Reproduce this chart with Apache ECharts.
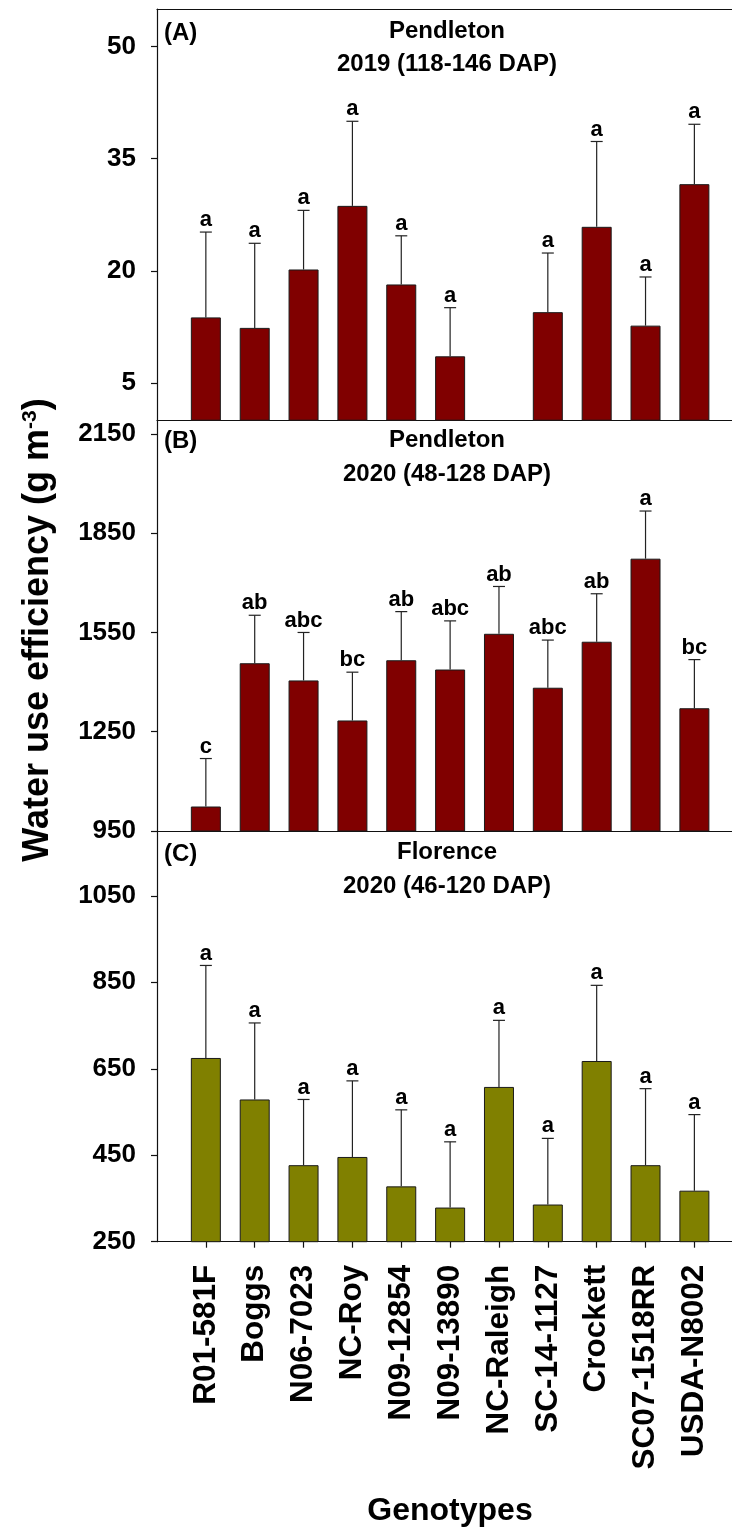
<!DOCTYPE html>
<html>
<head>
<meta charset="utf-8">
<script src="https://cdn.jsdelivr.net/npm/echarts@6/dist/echarts.min.js"></script>
<style>
  body { margin: 0; background: #fff; }
  #main { width: 732px; height: 1532px; }
</style>
</head>
<body>
<div id="main"></div>
<script>
// genotypes on the x axis
var genotypes = ["R01-581F", "Boggs", "N06-7023", "NC-Roy", "N09-12854", "N09-13890",
  "NC-Raleigh", "SC-14-1127", "Crockett", "SC07-1518RR", "USDA-N8002"];

// (A) Pendleton 2019
var wueA = [13.8, 12.4, 20.2, 28.7, 18.2, 8.6, null, 14.5, 25.9, 12.7, 31.6];
var seA = [11.4, 11.3, 7.9, 11.3, 6.5, 6.5, null, 7.9, 11.4, 6.5, 8.0];
var letA = ["a", "a", "a", "a", "a", "a", "", "a", "a", "a", "a"];
var ticksA = [5, 20, 35, 50];

// (B) Pendleton 2020
var wueB = [1024, 1457, 1405, 1284, 1466, 1438, 1546, 1383, 1522, 1773, 1321];
var seB = [145, 145, 145, 146, 147, 147, 143, 144, 145, 144, 147];
var letB = ["c", "ab", "abc", "bc", "ab", "abc", "ab", "abc", "ab", "a", "bc"];
var ticksB = [950, 1250, 1550, 1850, 2150];

// (C) Florence 2020
var wueC = [675, 579, 427, 446, 378, 329, 608, 336, 668, 427, 368];
var seC = [214, 177, 152, 176, 177, 152, 154, 153, 175, 177, 176];
var letC = ["a", "a", "a", "a", "a", "a", "a", "a", "a", "a", "a"];
var ticksC = [250, 450, 650, 850, 1050];

var FONT = "'Liberation Sans', Arial, sans-serif";
var slots = genotypes.map(function (g, i) { return i + 1; });
// the plot runs past the right edge of the page (cut off like the original)
var X_MAX = 11.77;

function barSeries(idx, means, color) {
  var data = [];
  means.forEach(function (v, i) {
    if (v != null) data.push([i + 1, v]);
  });
  return {
    type: "bar",
    xAxisIndex: idx,
    yAxisIndex: idx,
    barWidth: 30,
    animation: false,
    itemStyle: { color: color, borderColor: "#1a1a1a", borderWidth: 1 },
    data: data,
  };
}

function errSeries(idx, means, ses, letters) {
  var data = [];
  means.forEach(function (v, i) {
    if (v != null) data.push([i + 1, v, ses[i], i]);
  });
  return {
    type: "custom",
    xAxisIndex: idx,
    yAxisIndex: idx,
    animation: false,
    z: 5,
    renderItem: function (params, api) {
      var p0 = api.coord([api.value(0), api.value(1)]);
      var p1 = api.coord([api.value(0), api.value(1) + api.value(2)]);
      var lineStyle = { stroke: "#222", lineWidth: 1.2 };
      return {
        type: "group",
        children: [
          { type: "line", shape: { x1: p0[0], y1: p0[1], x2: p1[0], y2: p1[1] }, style: lineStyle },
          { type: "line", shape: { x1: p1[0] - 6, y1: p1[1], x2: p1[0] + 6, y2: p1[1] }, style: lineStyle },
          {
            type: "text",
            x: p1[0],
            y: p1[1] - 1,
            style: {
              text: letters[api.value(3)],
              textAlign: "center",
              textVerticalAlign: "bottom",
              font: "bold 22px " + FONT,
              fill: "#000",
            },
          },
        ],
      };
    },
    data: data,
  };
}

function yAxisFor(idx, min, max, ticks) {
  return {
    type: "value",
    gridIndex: idx,
    min: min,
    max: max,
    axisLine: { show: true, lineStyle: { color: "#111", width: 1.2 } },
    axisTick: { show: true, length: 6, customValues: ticks, lineStyle: { color: "#111", width: 1.2 } },
    axisLabel: {
      customValues: ticks,
      margin: 21,
      color: "#000",
      fontWeight: "bold",
      fontSize: 26,
      fontFamily: FONT,
      formatter: function (v) {
        return String(v);
      },
    },
    splitLine: { show: false },
  };
}

function xAxisFor(idx, showLabels, position) {
  return {
    type: "value",
    gridIndex: idx,
    position: position || "bottom",
    min: 0,
    max: X_MAX,
    axisLine: { show: true, onZero: false, lineStyle: { color: "#111", width: 1.2 } },
    axisTick: {
      show: showLabels,
      length: 6,
      customValues: slots,
      lineStyle: { color: "#111", width: 1.2 },
    },
    axisLabel: {
      show: showLabels,
      customValues: slots,
      rotate: 90,
      margin: 23,
      color: "#000",
      fontWeight: "bold",
      fontSize: 31.5,
      fontFamily: FONT,
      formatter: function (v) {
        return genotypes[v - 1];
      },
    },
    splitLine: { show: false },
  };
}

function txt(x, y, text, size, align) {
  return {
    type: "text",
    x: x,
    y: y,
    style: {
      text: text,
      textAlign: align || "center",
      textVerticalAlign: "middle",
      font: "bold " + size + "px " + FONT,
      fill: "#000",
    },
  };
}

var chartDom = document.getElementById("main");
var myChart = echarts.init(chartDom, null, { renderer: "canvas" });

var option = {
  backgroundColor: "#fff",
  animation: false,
  grid: [
    { left: 157, right: 0, top: 9, height: 411.7 },
    { left: 157, right: 0, top: 420.7, height: 410.3 },
    { left: 157, right: 0, top: 831, height: 410.7 },
  ],
  xAxis: [
    xAxisFor(0, false),
    xAxisFor(1, false),
    xAxisFor(2, true),
    xAxisFor(0, false, "top"),
  ],
  yAxis: [
    yAxisFor(0, 0, 55, ticksA),
    yAxisFor(1, 950, 2190, ticksB),
    yAxisFor(2, 250, 1200, ticksC),
  ],
  series: [
    barSeries(0, wueA, "#800000"),
    errSeries(0, wueA, seA, letA),
    barSeries(1, wueB, "#800000"),
    errSeries(1, wueB, seB, letB),
    barSeries(2, wueC, "#808000"),
    errSeries(2, wueC, seC, letC),
  ],
  graphic: [
    txt(164, 33, "(A)", 24, "left"),
    txt(447, 31, "Pendleton", 24),
    txt(447, 64, "2019 (118-146 DAP)", 24),
    txt(164, 441, "(B)", 24, "left"),
    txt(447, 440, "Pendleton", 24),
    txt(447, 474, "2020 (48-128 DAP)", 24),
    txt(164, 854, "(C)", 24, "left"),
    txt(447, 852, "Florence", 24),
    txt(447, 886, "2020 (46-120 DAP)", 24),
    txt(450, 1511, "Genotypes", 32),
    {
      type: "text",
      x: 38,
      y: 630,
      rotation: Math.PI / 2,
      style: {
        text: "Water use efficiency (g m{sup|-3})",
        textAlign: "center",
        textVerticalAlign: "middle",
        font: "bold 36px " + FONT,
        fill: "#000",
        rich: {
          sup: { fontSize: 21, fontWeight: "bold", fontFamily: FONT, verticalAlign: "top", fill: "#000" },
        },
      },
    },
  ],
};
option && myChart.setOption(option);
</script>
</body>
</html>
